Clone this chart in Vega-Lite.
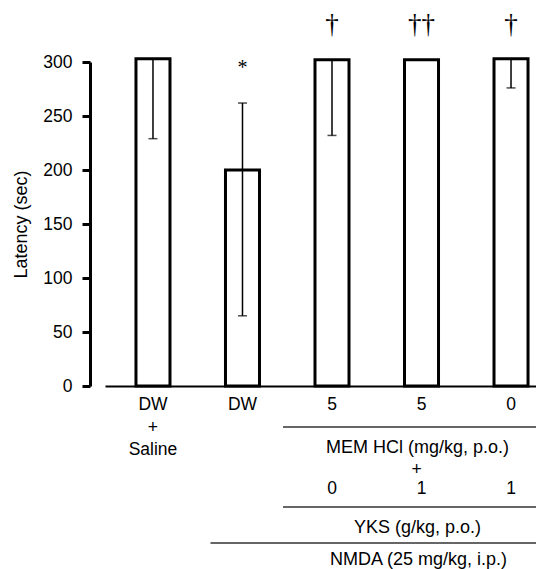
{
  "$schema": "https://vega.github.io/schema/vega-lite/v6.json",
  "width": 431,
  "height": 324,
  "autosize": "none",
  "padding": {"left": 105, "top": 62, "right": 0, "bottom": 183},
  "config": {"view": {"stroke": null}, "font": "Liberation Sans"},
  "datasets": {
    "bars": [
      {"group": "A", "value": 303, "lo": 229, "hi": 303},
      {"group": "B", "value": 200, "lo": 65, "hi": 262},
      {"group": "C", "value": 302, "lo": 232, "hi": 302},
      {"group": "D", "value": 302, "lo": null, "hi": null},
      {"group": "E", "value": 303, "lo": 276, "hi": 303}
    ]
  },
  "layer": [
    {
      "data": {"name": "bars"},
      "mark": {"type": "bar", "fill": "white", "stroke": "black", "strokeWidth": 3},
      "encoding": {
        "x": {
          "field": "group", "type": "nominal",
          "scale": {"domain": ["A", "B", "C", "D", "E"], "range": [0, 454], "paddingInner": 0.62, "paddingOuter": 0.346},
          "axis": {"labels": false, "ticks": false, "title": null, "domainColor": "black", "domainWidth": 2, "grid": false}
        },
        "y": {
          "field": "value", "type": "quantitative",
          "scale": {"domain": [0, 300], "nice": false},
          "axis": {
            "orient": "left", "offset": 15, "values": [0, 50, 100, 150, 200, 250, 300],
            "domainColor": "black", "domainWidth": 3, "tickColor": "black", "tickWidth": 3, "tickSize": 8,
            "labelFontSize": 17.5, "labelColor": "black", "labelPadding": 10, "labelFont": "Liberation Sans",
            "title": "Latency (sec)", "titleFontSize": 18, "titleFont": "Liberation Sans", "titleFontWeight": "normal",
            "titleColor": "black", "titlePadding": 12, "grid": false
          }
        }
      }
    },
    {
      "data": {"name": "bars"},
      "transform": [{"filter": "isValid(datum.lo)"}],
      "mark": {"type": "rule", "strokeWidth": 1.5, "color": "black"},
      "encoding": {
        "x": {"field": "group", "type": "nominal"},
        "y": {"field": "lo", "type": "quantitative"},
        "y2": {"field": "hi"}
      }
    },
    {
      "data": {"name": "bars"},
      "transform": [{"filter": "isValid(datum.lo)"}],
      "mark": {"type": "tick", "orient": "horizontal", "size": 9, "thickness": 1.5, "color": "black"},
      "encoding": {
        "x": {"field": "group", "type": "nominal"},
        "y": {"field": "lo", "type": "quantitative"}
      }
    },
    {
      "data": {"name": "bars"},
      "transform": [{"filter": "isValid(datum.hi)"}],
      "mark": {"type": "tick", "orient": "horizontal", "size": 9, "thickness": 1.5, "color": "black"},
      "encoding": {
        "x": {"field": "group", "type": "nominal"},
        "y": {"field": "hi", "type": "quantitative"}
      }
    },
    {
      "data": {"values": [{"group": "C", "sig": "†"}, {"group": "D", "sig": "††"}, {"group": "E", "sig": "†"}]},
      "mark": {"type": "text", "font": "Liberation Serif", "fontSize": 27, "baseline": "alphabetic", "dy": -29, "color": "black"},
      "encoding": {
        "x": {"field": "group", "type": "nominal"},
        "y": {"datum": 300},
        "text": {"field": "sig"}
      }
    },
    {
      "data": {"values": [{"group": "B", "sig": "*"}]},
      "mark": {"type": "text", "font": "Liberation Serif", "fontSize": 20, "baseline": "alphabetic", "dy": 12, "color": "black"},
      "encoding": {
        "x": {"field": "group", "type": "nominal"},
        "y": {"datum": 300},
        "text": {"field": "sig"}
      }
    },
    {
      "data": {"values": [
        {"group": "A", "label": ["DW", "+", "Saline"]},
        {"group": "B", "label": "DW"},
        {"group": "C", "label": "5"},
        {"group": "D", "label": "5"},
        {"group": "E", "label": "0"}
      ]},
      "mark": {"type": "text", "fontSize": 17.5, "baseline": "alphabetic", "dy": 24, "lineHeight": 22.5, "color": "black"},
      "encoding": {
        "x": {"field": "group", "type": "nominal"},
        "y": {"datum": 0},
        "text": {"field": "label"}
      }
    },
    {
      "data": {"values": [{"group": "C", "label": "0"}, {"group": "D", "label": "1"}, {"group": "E", "label": "1"}]},
      "mark": {"type": "text", "fontSize": 17.5, "baseline": "alphabetic", "dy": 108, "color": "black"},
      "encoding": {
        "x": {"field": "group", "type": "nominal"},
        "y": {"datum": 0},
        "text": {"field": "label"}
      }
    },
    {
      "data": {"values": [{"group": "D", "label": "MEM HCl (mg/kg, p.o.)"}]},
      "mark": {"type": "text", "fontSize": 18, "baseline": "alphabetic", "dy": 67, "dx": -4, "color": "black"},
      "encoding": {
        "x": {"field": "group", "type": "nominal"},
        "y": {"datum": 0},
        "text": {"field": "label"}
      }
    },
    {
      "data": {"values": [{"group": "D", "label": "+"}]},
      "mark": {"type": "text", "fontSize": 17.5, "baseline": "alphabetic", "dy": 89, "dx": -5, "color": "black"},
      "encoding": {
        "x": {"field": "group", "type": "nominal"},
        "y": {"datum": 0},
        "text": {"field": "label"}
      }
    },
    {
      "data": {"values": [{"group": "D", "label": "YKS (g/kg, p.o.)"}]},
      "mark": {"type": "text", "fontSize": 18, "baseline": "alphabetic", "dy": 147, "dx": -4, "color": "black"},
      "encoding": {
        "x": {"field": "group", "type": "nominal"},
        "y": {"datum": 0},
        "text": {"field": "label"}
      }
    },
    {
      "data": {"values": [{"group": "D", "label": "NMDA (25 mg/kg, i.p.)"}]},
      "mark": {"type": "text", "fontSize": 18, "baseline": "alphabetic", "dy": 179, "dx": -3, "color": "black"},
      "encoding": {
        "x": {"field": "group", "type": "nominal"},
        "y": {"datum": 0},
        "text": {"field": "label"}
      }
    },
    {
      "data": {"values": [{"from": "C", "to": "E"}]},
      "mark": {"type": "rule", "strokeWidth": 1.5, "color": "#333333", "yOffset": 41, "xOffset": -49, "x2Offset": 40},
      "encoding": {
        "x": {"field": "from", "type": "nominal"},
        "x2": {"field": "to"},
        "y": {"datum": 0}
      }
    },
    {
      "data": {"values": [{"from": "C", "to": "E"}]},
      "mark": {"type": "rule", "strokeWidth": 1.5, "color": "#333333", "yOffset": 121, "xOffset": -49, "x2Offset": 40},
      "encoding": {
        "x": {"field": "from", "type": "nominal"},
        "x2": {"field": "to"},
        "y": {"datum": 0}
      }
    },
    {
      "data": {"values": [{"from": "B", "to": "E"}]},
      "mark": {"type": "rule", "strokeWidth": 1.5, "color": "#333333", "yOffset": 157, "xOffset": -32, "x2Offset": 40},
      "encoding": {
        "x": {"field": "from", "type": "nominal"},
        "x2": {"field": "to"},
        "y": {"datum": 0}
      }
    }
  ]
}
